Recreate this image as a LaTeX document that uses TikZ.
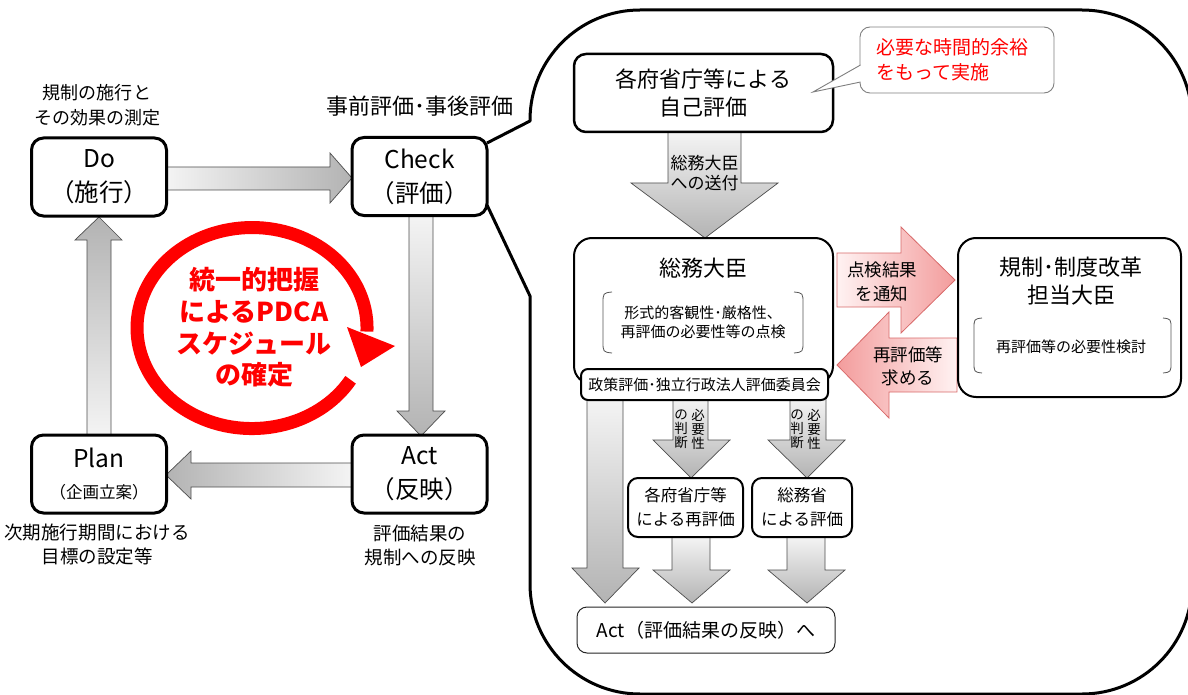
\documentclass[tikz,border=0pt]{standalone}
\usepackage{fontspec}
\setmainfont{Noto Sans CJK JP}
\newcommand\fsz[2]{\fontsize{#1pt}{#2pt}\selectfont}
\definecolor{glight}{HTML}{F4F4F4}
\definecolor{gdark}{HTML}{B3B3B3}
\definecolor{gline}{HTML}{4D4D4D}
\definecolor{plight}{HTML}{FFF2F2}
\definecolor{pdark}{HTML}{F39C9C}
\definecolor{pline}{HTML}{D86A6A}
\definecolor{bracketc}{HTML}{555555}
\definecolor{bubblec}{HTML}{7F7F7F}
\begin{document}
\begin{tikzpicture}[x=1pt,y=-1pt,
  pdca/.style={draw=black, line width=3pt, rounded corners=12pt, fill=white, minimum width=135pt, minimum height=78pt, inner sep=0pt, align=center},
  rbox/.style={draw=black, line width=2pt, fill=white, inner sep=0pt, align=center},
  lbl/.style={inner sep=0pt, align=center},
  garrow/.style={draw=gline, line width=0.7pt},
  parrow/.style={draw=pline, line width=0.8pt},
  brk/.style={draw=bracketc, line width=0.8pt},
]
\useasboundingbox (0,0) rectangle (1188,695);
\clip (0,0) rectangle (1188,695);

% big callout outline
\draw[line width=3pt, line join=round] (487,143) -- (530,121) -- (530,120)
  arc[start angle=180, end angle=270, radius=110] -- (1082,10)
  arc[start angle=270, end angle=360, radius=110] -- (1192,584)
  arc[start angle=0, end angle=90, radius=110] -- (640,694)
  arc[start angle=90, end angle=180, radius=110] -- (530,296) -- (487,205);

% ---------- left PDCA block arrows
\path[garrow, left color=glight, right color=gdark]
  (166,167) -- (330,167) -- (330,153) -- (352,178) -- (330,203) -- (330,190) -- (166,190) -- cycle;
\path[garrow, top color=glight, bottom color=gdark]
  (409,215) -- (433,215) -- (433,411) -- (445,411) -- (421,436) -- (397,411) -- (409,411) -- cycle;
\path[garrow, left color=gdark, right color=glight]
  (352,463) -- (191,463) -- (191,451) -- (166,475) -- (191,499) -- (191,487) -- (352,487) -- cycle;
\path[garrow, top color=gdark, bottom color=glight]
  (87,436) -- (87,240) -- (75,240) -- (99,217) -- (122,240) -- (111,240) -- (111,436) -- cycle;

% ---------- PDCA boxes
\node[pdca, font=\fsz{24.5}{34}] (do) at (99,177) {Do\\（施行）};
\node[pdca, font=\fsz{24.5}{34}] (check) at (419.5,176.5) {Check\\（評価）};
\node[pdca, font=\fsz{24.5}{34}] (act) at (419.5,474) {Act\\（反映）};
\node[pdca, font=\fsz{24.5}{31}] (plan) at (99,474) {Plan\\{\fontsize{16.5pt}{31pt}\selectfont （企画立案）}};

\node[lbl, font=\fsz{18}{25}] (l1) at (97,105.5) {規制の施行と\\その効果の測定};
\node[lbl, font=\fsz{22}{25}] (l2) at (420,106) {事前評価･事後評価};
\node[lbl, font=\fsz{18.5}{24}] (l3) at (97,545) {次期施行期間における\\目標の設定等};
\node[lbl, font=\fsz{18.5}{24}] (l4) at (420,545) {評価結果の\\規制への反映};

% ---------- red cycle
\draw[red, line width=13pt] (350.6,379.8) arc[start angle=31, end angle=362, x radius=115, y radius=100.5];
\fill[red] (347,327) -- (395,346) -- (361,367) -- cycle;
\node[lbl, text=red, font=\fsz{26}{31.7}\bfseries] (pdcatext) at (254,327.5) {統一的把握\\によるPDCA\\スケジュール\\の確定};

% ---------- right side
% arrow self-eval -> minister
\path[garrow, top color=glight, bottom color=gdark]
  (668,132) -- (741,132) -- (741,183) -- (778,183) -- (705,238) -- (631,183) -- (668,183) -- cycle;
\node[lbl, font=\fsz{17}{20}] (sendtxt) at (704.5,173) {総務大臣\\への送付};

\node[rbox, line width=2.5pt, rounded corners=12pt, minimum width=259pt, minimum height=78pt, font=\fsz{22}{28}] (self) at (703.5,93) {各府省庁等による\\自己評価};

% bubble
\draw[bubblec, line width=0.9pt, fill=white, rounded corners=10pt] (860,82) -- (860,93) -- (1054,93) -- (1054,27) -- (860,27) -- (860,65);
\draw[bubblec, line width=0.9pt, fill=white] (860.5,65) -- (813,92) -- (860.5,82);
\node[lbl, anchor=west, align=left, text=red, font=\fsz{19}{25}] (bubtxt) at (876,59.5) {必要な時間的余裕\\をもって実施};

% minister box
\node[rbox, rounded corners=18pt, minimum width=259pt, minimum height=146pt] (somu) at (703.5,311) {};
\node[lbl, font=\fsz{22}{28}] (somutxt) at (703.5,268) {総務大臣};
\draw[brk] (612,292) .. controls (603,293) .. (603,304) -- (603,341) .. controls (603,352) .. (612,353);
\draw[brk] (794,292) .. controls (803,293) .. (803,304) -- (803,341) .. controls (803,352) .. (794,353);
\node[lbl, font=\fsz{15}{19.5}] (chk) at (703,322.5) {形式的客観性･厳格性、\\再評価の必要性等の点検};

% pink arrows
\path[parrow, left color=plight, right color=pdark]
  (837,253) -- (901,253) -- (901,227) -- (955,280) -- (901,333) -- (901,307) -- (837,307) -- cycle;
\node[lbl, font=\fsz{17.5}{24}] (ntf) at (882,282) {点検結果\\を通知};
\path[parrow, left color=pdark, right color=plight]
  (957,338) -- (889,338) -- (889,312) -- (837,365) -- (889,418) -- (889,392) -- (957,392) -- cycle;
\node[lbl, font=\fsz{17.5}{23}] (req) at (908,366) {再評価等\\求める};

% reform minister box
\node[rbox, rounded corners=18pt, minimum width=223pt, minimum height=159pt] (reform) at (1069.5,317.5) {};
\node[lbl, font=\fsz{22}{28}] (reftxt) at (1071,281.5) {規制･制度改革\\担当大臣};
\draw[brk] (982,318) .. controls (974,319) .. (974,329) -- (974,362) .. controls (974,372) .. (982,373);
\draw[brk] (1163,318) .. controls (1171,319) .. (1171,329) -- (1171,362) .. controls (1171,372) .. (1163,373);
\node[lbl, font=\fsz{15}{19}] (reftxt2) at (1071,347) {再評価等の必要性検討};

% down arrows below committee
\path[garrow, top color=glight, bottom color=gdark]
  (587,398) -- (623,398) -- (623,568) -- (639,568) -- (605,603) -- (572,568) -- (587,568) -- cycle;
\path[garrow, top color=glight, bottom color=gdark]
  (673,398) -- (708,398) -- (708,440) -- (730,440) -- (691,478) -- (653,440) -- (673,440) -- cycle;
\path[garrow, top color=glight, bottom color=gdark]
  (790,398) -- (826,398) -- (826,440) -- (845,440) -- (807,478) -- (768,440) -- (790,440) -- cycle;
\path[garrow, top color=glight, bottom color=gdark]
  (672,537) -- (710,537) -- (710,570) -- (730,570) -- (692,603) -- (653,570) -- (672,570) -- cycle;
\path[garrow, top color=glight, bottom color=gdark]
  (787,537) -- (825,537) -- (825,570) -- (845,570) -- (807,603) -- (768,570) -- (787,570) -- cycle;

\node[lbl, font=\fsz{13.5}{14}] (va1) at (698,429) {必\\要\\性};
\node[lbl, font=\fsz{13.5}{14}] (va2) at (681,429) {の\\判\\断};
\node[lbl, font=\fsz{13.5}{14}] (vb1) at (814,429) {必\\要\\性};
\node[lbl, font=\fsz{13.5}{14}] (vb2) at (797,429) {の\\判\\断};

% committee box
\node[rbox, rounded corners=7pt, minimum width=247pt, minimum height=31pt, font=\fsz{15}{18}] (comm) at (704.5,384.5) {政策評価･独立行政法人評価委員会};

% re-eval boxes
\node[rbox, rounded corners=10pt, minimum width=115pt, minimum height=59pt, font=\fsz{16.5}{24}] (reeval) at (685.5,507.5) {各府省庁等\\による再評価};
\node[rbox, rounded corners=10pt, minimum width=100pt, minimum height=59pt, font=\fsz{16.5}{24}] (somueval) at (802,507.5) {総務省\\による評価};

% final act box
\node[draw=black!85, line width=1pt, fill=white, rounded corners=10pt, minimum width=258pt, minimum height=46pt, inner sep=0pt, font=\fsz{19}{24}] (actnext) at (706,630) {Act（評価結果の反映）へ};
\end{tikzpicture}
\end{document}
